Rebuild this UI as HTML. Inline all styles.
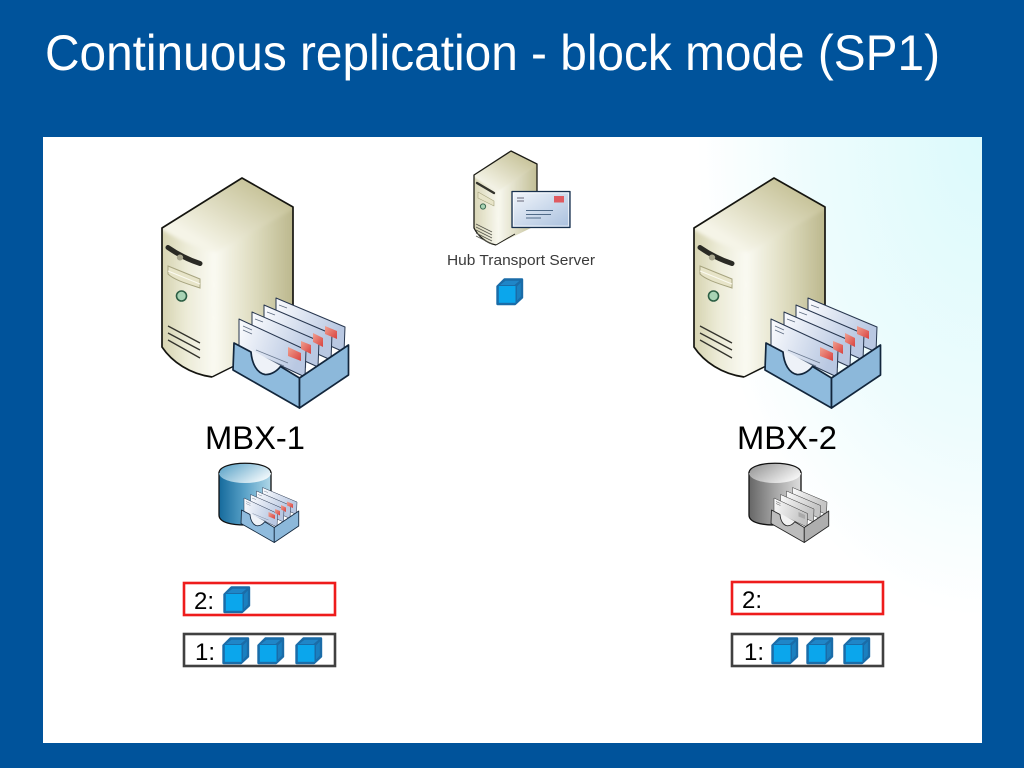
<!DOCTYPE html>
<html>
<head>
<meta charset="utf-8">
<style>
html,body{margin:0;padding:0;background:#00539b;width:1024px;height:768px;overflow:hidden}
svg{display:block}
text{font-family:"Liberation Sans",sans-serif}
</style>
</head>
<body>
<svg width="1024" height="768" viewBox="0 0 1024 768" xmlns="http://www.w3.org/2000/svg">
<defs>
  <radialGradient id="glow" gradientUnits="userSpaceOnUse" cx="982" cy="137" r="300" gradientTransform="translate(982 137) scale(0.95 1.6) translate(-982 -137)">
    <stop offset="0" stop-color="#dcfafc"/>
    <stop offset="0.6" stop-color="#edfcfd"/>
    <stop offset="1" stop-color="#ffffff"/>
  </radialGradient>
  <linearGradient id="srvFront" gradientUnits="userSpaceOnUse" x1="162" y1="0" x2="216" y2="0">
    <stop offset="0" stop-color="#d6d3b0"/>
    <stop offset="0.45" stop-color="#ecebd7"/>
    <stop offset="1" stop-color="#fbfbf4"/>
  </linearGradient>
  <linearGradient id="srvSide" gradientUnits="userSpaceOnUse" x1="212" y1="0" x2="293" y2="0">
    <stop offset="0" stop-color="#fcfcf5"/>
    <stop offset="0.5" stop-color="#dfddc1"/>
    <stop offset="1" stop-color="#bcb88d"/>
  </linearGradient>
  <linearGradient id="srvTop" gradientUnits="userSpaceOnUse" x1="255" y1="185" x2="215" y2="250">
    <stop offset="0" stop-color="#c8c49b"/>
    <stop offset="1" stop-color="#f5f4e7"/>
  </linearGradient>
  <linearGradient id="hFront" gradientUnits="userSpaceOnUse" x1="474" y1="0" x2="500" y2="0">
    <stop offset="0" stop-color="#d9d6b6"/>
    <stop offset="1" stop-color="#fafaf2"/>
  </linearGradient>
  <linearGradient id="hSide" gradientUnits="userSpaceOnUse" x1="497" y1="0" x2="537" y2="0">
    <stop offset="0" stop-color="#fafaf2"/>
    <stop offset="1" stop-color="#c2be95"/>
  </linearGradient>
  <linearGradient id="hTop" gradientUnits="userSpaceOnUse" x1="518" y1="156" x2="497" y2="190">
    <stop offset="0" stop-color="#cbc7a0"/>
    <stop offset="1" stop-color="#f3f2e5"/>
  </linearGradient>
  <linearGradient id="env" gradientUnits="userSpaceOnUse" x1="240" y1="330" x2="345" y2="350">
    <stop offset="0" stop-color="#f8fafd"/>
    <stop offset="1" stop-color="#c3d0e6"/>
  </linearGradient>
  <linearGradient id="envB1" x1="0" y1="0" x2="1" y2="0.3">
    <stop offset="0" stop-color="#fbfcfe"/>
    <stop offset="1" stop-color="#b9c8e2"/>
  </linearGradient>
  <linearGradient id="envG1" x1="0" y1="0" x2="1" y2="0.3">
    <stop offset="0" stop-color="#fafafa"/>
    <stop offset="1" stop-color="#c4c4c4"/>
  </linearGradient>
  <linearGradient id="cyl" x1="0" y1="0" x2="1" y2="0">
    <stop offset="0" stop-color="#156a9c"/>
    <stop offset="0.5" stop-color="#5aa2c8"/>
    <stop offset="1" stop-color="#b0d7e8"/>
  </linearGradient>
  <linearGradient id="cylTop" x1="0" y1="0" x2="1" y2="0.6">
    <stop offset="0" stop-color="#4f9cc3"/>
    <stop offset="1" stop-color="#edf6fa"/>
  </linearGradient>
  <linearGradient id="cylG" x1="0" y1="0" x2="1" y2="0">
    <stop offset="0" stop-color="#666666"/>
    <stop offset="0.5" stop-color="#a5a5a5"/>
    <stop offset="1" stop-color="#dedede"/>
  </linearGradient>
  <linearGradient id="cylTopG" x1="0" y1="0" x2="1" y2="0.6">
    <stop offset="0" stop-color="#8e8e8e"/>
    <stop offset="1" stop-color="#f4f4f4"/>
  </linearGradient>
  <linearGradient id="hubEnv" x1="0" y1="0" x2="1" y2="1">
    <stop offset="0" stop-color="#f2f6fb"/>
    <stop offset="1" stop-color="#a9c0de"/>
  </linearGradient>
  <linearGradient id="stamp" x1="0" y1="0" x2="1" y2="1">
    <stop offset="0" stop-color="#f0a090"/>
    <stop offset="1" stop-color="#d9423f"/>
  </linearGradient>
  <filter id="soft" x="-10%" y="-10%" width="120%" height="120%"><feGaussianBlur stdDeviation="1.8"/></filter>
  <filter id="softS" x="-10%" y="-10%" width="120%" height="120%"><feGaussianBlur stdDeviation="0.9"/></filter>
  <filter id="aa" x="-5%" y="-5%" width="110%" height="110%"><feGaussianBlur stdDeviation="0.35"/></filter>
  <clipPath id="srvClip"><path d="M242 178 L293 207 L293 330 L212 377 C190 374 172 362 162 347 L162 228 Z"/></clipPath>
  <clipPath id="hubClip"><path d="M511 151 L537 164 L537 225 L496 245 C486 243 478 236 474 228 L474 175 Z"/></clipPath>

  <g id="cube" stroke-linejoin="round">
    <path d="M1.500 8.500 L8.500 1.500 L26 1.500 L26 19.500 L19 26 L1.500 26 Z" fill="#1a6ca8" stroke="#1a6ca8" stroke-width="2.400"/>
    <path d="M4 7 L9.500 2.800 L23.500 2.800 L18.500 7 Z" fill="#1f86c8"/>
    <path d="M21 8.500 L24.800 4.500 L24.800 18.500 L21 22.500 Z" fill="#1a80c0"/>
    <rect x="2.800" y="8" width="16.700" height="16.800" fill="#0ba6ec"/>
  </g>

  <g id="lettersB" stroke-linejoin="round">
    <path d="M276 298 L345 327 L344 352 L276 322 Z" fill="url(#envB1)" stroke="#27364e" stroke-width="1"/>
    <path d="M312 331 L319 334 L318 362 L311 359 Z" fill="#8f9db5"/>
    <path d="M264 305 L332 334 L331 360 L264 330 Z" fill="url(#envB1)" stroke="#27364e" stroke-width="1"/>
    <path d="M300 339 L307 342 L306 368 L299 365 Z" fill="#8f9db5"/>
    <path d="M252 312 L319 341 L318 367 L252 337 Z" fill="url(#envB1)" stroke="#27364e" stroke-width="1"/>
    <path d="M288 346 L295 349 L294 375 L287 372 Z" fill="#8f9db5" opacity="0"/>
    <path d="M239 319 L306 350 L305 377 L239 346 Z" fill="url(#envB1)" stroke="#27364e" stroke-width="1"/>
    <path d="M325 326 L337 331 L337 339 L325 334 Z" fill="url(#stamp)"/>
    <path d="M313 333 L323 338 L323 347 L313 342 Z" fill="url(#stamp)"/>
    <path d="M301 341 L311 345 L311 354 L301 349 Z" fill="url(#stamp)"/>
    <path d="M288 347 L301 353 L301 361 L288 356 Z" fill="url(#stamp)"/>
    <path d="M243 326 L252 330 M243 330 L252 334 M255 319 L263 322 M267 312 L275 315 M279 305 L287 308" stroke="#5d6b80" stroke-width="0.800"/>
    <path d="M256 350 L288 363 M256 354 L284 366 M256 358 L275 367" stroke="#6b7a90" stroke-width="0.800"/>
  </g>
  <g id="trayBfront" stroke-linejoin="round">
    <path d="M250 351 C251 364 257 372 265 374 C271 375 277 371 281 366 L270 360 L250 349 Z" fill="#eef2f8"/>
    <path d="M234 343 L251 352 C252 364 257 373 265 374.500 C271 375 277 371 280.500 366.500 L299.500 378 L299.500 408 L233 370 Z" fill="#8fbbdd" stroke="#12263c" stroke-width="1.700"/>
    <path d="M299.500 378 L348.500 345 L348.500 375 L299.500 408 Z" fill="#8cb8da" stroke="#12263c" stroke-width="1.700"/>
  </g>
  <g id="tray-blue"><use href="#lettersB"/><use href="#trayBfront"/></g>

  <g id="tray-gray" stroke-linejoin="round">
    <path d="M276 298 L345 327 L344 352 L276 322 Z" fill="url(#envG1)" stroke="#333" stroke-width="1"/>
    <path d="M312 331 L319 334 L318 362 L311 359 Z" fill="#999"/>
    <path d="M264 305 L332 334 L331 360 L264 330 Z" fill="url(#envG1)" stroke="#333" stroke-width="1"/>
    <path d="M300 339 L307 342 L306 368 L299 365 Z" fill="#999"/>
    <path d="M252 312 L319 341 L318 367 L252 337 Z" fill="url(#envG1)" stroke="#333" stroke-width="1"/>
    <path d="M239 319 L306 350 L305 377 L239 346 Z" fill="url(#envG1)" stroke="#333" stroke-width="1"/>
    <path d="M288 347 L301 353 L301 361 L288 356 Z" fill="#aaa"/>
    <path d="M243 326 L252 330 M243 330 L252 334" stroke="#555" stroke-width="1"/>
    <path d="M250 351 C251 364 257 372 265 374 C271 375 277 371 281 366 L270 360 L250 349 Z" fill="#f2f2f2"/>
    <path d="M234 343 L251 352 C252 364 257 373 265 374.500 C271 375 277 371 280.500 366.500 L299.500 378 L299.500 408 L233 370 Z" fill="#bcbcbc" stroke="#222" stroke-width="1.700"/>
    <path d="M299.500 378 L348.500 345 L348.500 375 L299.500 408 Z" fill="#aeaeae" stroke="#222" stroke-width="1.700"/>
  </g>

  <g id="server">
    <g clip-path="url(#srvClip)">
      <rect x="150" y="170" width="150" height="215" fill="#e8e6cf"/>
      <g filter="url(#soft)">
        <path d="M150 385 L150 222 C175 238 195 248 216 252 L214 385 Z" fill="url(#srvFront)"/>
        <path d="M214 385 L216 252 L300 205 L300 385 Z" fill="url(#srvSide)"/>
        <path d="M242 170 L300 205 L216 252 C195 248 175 238 150 222 Z" fill="url(#srvTop)"/>
      </g>
    </g>
    <path d="M212 377 C190 374 172 362 162 347 L162 228 L242 178 L293 207 L293 325" fill="none" stroke="#151510" stroke-width="1.700" stroke-linejoin="round"/>
    <path d="M212 377 L234 366" fill="none" stroke="#151510" stroke-width="1.500"/>
    <path d="M168 247.500 C176 253 186 259 200 263.500" fill="none" stroke="#2a2a24" stroke-width="5" stroke-linecap="round"/>
    <ellipse cx="180" cy="257.500" rx="3.200" ry="3" fill="#a9a78f"/>
    <path d="M168 266 L200 279 L200 288 C188 284 174 280 168 274 Z" fill="#e7e4c8" stroke="#a7a47f" stroke-width="1"/>
    <path d="M168 271 L200 284" stroke="#fbfaf0" stroke-width="1" fill="none"/>
    <circle cx="181.500" cy="296" r="5" fill="#a8d3b4" stroke="#2c5e44" stroke-width="1.600"/>
    <path d="M168 326 L200 343 M168 333 L200 350 M168 340 L200 358" stroke="#33332c" stroke-width="1.300" fill="none"/>
    <use href="#tray-blue"/>
  </g>
</defs>

<rect width="1024" height="768" fill="#00539b"/>
<rect x="43" y="137" width="939" height="606" fill="#ffffff"/>
<rect x="690" y="137" width="292" height="480" fill="url(#glow)"/>

<text x="45" y="70" font-size="50" fill="#ffffff" textLength="895" lengthAdjust="spacingAndGlyphs">Continuous replication - block mode (SP1)</text>

<!-- Servers -->
<use href="#server"/>
<g transform="translate(532 0)"><use href="#server"/></g>

<text x="255" y="449" font-size="32" fill="#000" text-anchor="middle" textLength="100" lengthAdjust="spacingAndGlyphs">MBX-1</text>
<text x="787" y="449" font-size="32" fill="#000" text-anchor="middle" textLength="100" lengthAdjust="spacingAndGlyphs">MBX-2</text>

<!-- Hub server -->
<g stroke-linejoin="round">
  <g clip-path="url(#hubClip)">
    <rect x="470" y="148" width="70" height="100" fill="#e8e6cf"/>
    <g filter="url(#softS)">
      <path d="M468 248 L468 172 C480 182 490 188 498 191 L497 248 Z" fill="url(#hFront)"/>
      <path d="M497 248 L498 191 L540 163 L540 248 Z" fill="url(#hSide)"/>
      <path d="M511 146 L540 163 L498 191 C490 188 480 182 468 172 Z" fill="url(#hTop)"/>
    </g>
  </g>
  <path d="M496 245 C486 243 478 236 474 228 L474 175 L511 151 L537 164 L537 195" fill="none" stroke="#1c1c16" stroke-width="1.300"/>
  <path d="M496 245 L515 234" fill="none" stroke="#1c1c16" stroke-width="1"/>
  <path d="M477 183 L494 193" stroke="#33332c" stroke-width="2.400" fill="none" stroke-linecap="round"/>
  <path d="M478 192 L494 201 L494 206 L478 198 Z" fill="#e7e4c8" stroke="#a7a47f" stroke-width="0.600"/>
  <circle cx="483" cy="206.500" r="2.600" fill="#a8d3b4" stroke="#3d6a52" stroke-width="1"/>
  <path d="M476 224 L492 232 M476 227 L492 235 M476 230 L492 238 M476 233 L492 241 M476 236 L492 244" stroke="#55554c" stroke-width="0.800" fill="none"/>
  <rect x="512" y="191.500" width="58" height="36" fill="url(#hubEnv)" stroke="#17304d" stroke-width="1.300"/>
  <rect x="513.500" y="193" width="55" height="33" fill="none" stroke="#ffffff" stroke-width="0.800" opacity="0.800"/>
  <rect x="554" y="196" width="10" height="6.500" fill="#df5a60"/>
  <path d="M517 198 L524 198 M517 201 L524 201" stroke="#667" stroke-width="0.900"/>
  <path d="M526 210.500 L553 210.500 M526 214.500 L551 214.500 M526 218 L541 218" stroke="#4f6a88" stroke-width="1"/>
</g>
<text x="521" y="265" font-size="14.500" fill="#3a3a3a" text-anchor="middle" textLength="148" lengthAdjust="spacingAndGlyphs">Hub Transport Server</text>
<use href="#cube" x="496" y="278"/>

<!-- DB blue -->
<g>
  <path d="M219 473 L219 515 C219 523 233 525 245 525 C258 525 271 522 271 515 L271 473 Z" fill="url(#cyl)" stroke="#111" stroke-width="1.300"/>
  <ellipse cx="245" cy="473" rx="26" ry="10" fill="url(#cylTop)"/>
  <path d="M219 473 C219 460 271 460 271 473" fill="none" stroke="#111" stroke-width="1.300"/>
  <g transform="translate(124.500 338.500) scale(0.5)"><use href="#tray-blue"/></g>
</g>
<!-- DB gray -->
<g transform="translate(530 0)">
  <path d="M219 473 L219 515 C219 523 233 525 245 525 C258 525 271 522 271 515 L271 473 Z" fill="url(#cylG)" stroke="#111" stroke-width="1.300"/>
  <ellipse cx="245" cy="473" rx="26" ry="10" fill="url(#cylTopG)"/>
  <path d="M219 473 C219 460 271 460 271 473" fill="none" stroke="#111" stroke-width="1.300"/>
  <g transform="translate(124.500 338.500) scale(0.5)"><use href="#tray-gray"/></g>
</g>

<!-- Left lists -->
<rect x="184" y="583" width="151" height="32" fill="#fff" stroke="#ee1c1c" stroke-width="2.600"/>
<rect x="184" y="634" width="151" height="32" fill="#fff" stroke="#404040" stroke-width="2.600"/>
<text x="194" y="609" font-size="24" fill="#000">2:</text>
<text x="195" y="660" font-size="24" fill="#000">1:</text>
<use href="#cube" x="223" y="586"/>
<use href="#cube" x="222" y="637"/>
<use href="#cube" x="257" y="637"/>
<use href="#cube" x="295" y="637"/>

<!-- Right lists -->
<rect x="732" y="582" width="151" height="32" fill="#fff" stroke="#ee1c1c" stroke-width="2.600"/>
<rect x="732" y="634" width="151" height="32" fill="#fff" stroke="#404040" stroke-width="2.600"/>
<text x="742" y="608" font-size="24" fill="#000">2:</text>
<text x="744" y="660" font-size="24" fill="#000">1:</text>
<use href="#cube" x="771" y="637"/>
<use href="#cube" x="806" y="637"/>
<use href="#cube" x="843" y="637"/>
</svg>
</body>
</html>
